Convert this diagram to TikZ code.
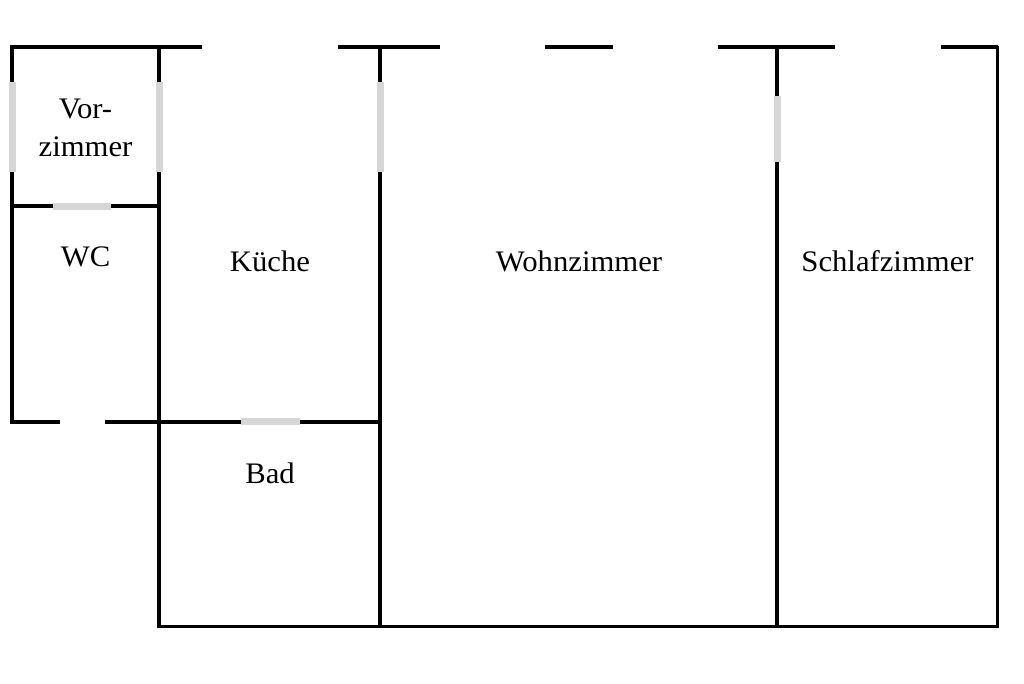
\documentclass[tikz,border=0pt]{standalone}
\usepackage{fontspec}
\setmainfont{Liberation Serif}[FakeStretch=1.03]
\tikzset{
  x=1pt,y=-1pt,
  wall/.style={line width=3.7pt,black,line cap=butt},
  thinwall/.style={line width=3.3pt,black,line cap=butt},
  door/.style={line width=7pt,doorgrey,line cap=butt},
  room/.style={inner sep=0pt,align=center,font=\fontsize{29.8}{38}\selectfont}
}
\definecolor{doorgrey}{HTML}{D6D6D6}
\begin{document}
\begin{tikzpicture}
\useasboundingbox (0,0) rectangle (1024,683);
% outer top wall
\draw[wall,line join=miter] (202,47.3) -- (12.3,47.3) -- (12.3,82);
\draw[wall] (338,47.3) -- (440,47.3);
\draw[wall] (545,47.3) -- (613,47.3);
\draw[wall] (718,47.3) -- (835,47.3);
\draw[wall] (941,47.3) -- (997.7,47.3);
\draw[thinwall,line join=miter] (997.7,45.5) -- (997.7,626.7) -- (159.3,626.7);
% left wall
\draw[wall,line join=miter] (12.3,172) -- (12.3,421.7) -- (60,421.7);
\draw[wall] (105,421.7) -- (240.5,421.7);
\draw[wall] (299.5,421.7) -- (380,421.7);
% partitions
\draw[wall] (159.3,47.3) -- (159.3,82);
\draw[wall] (159.3,172) -- (159.3,628.2);
\draw[wall] (380,47.3) -- (380,82);
\draw[wall] (380,172) -- (380,628.2);
\draw[wall] (777.3,47.3) -- (777.3,96);
\draw[wall] (777.3,161.5) -- (777.3,628.2);
\draw[wall] (12.3,206) -- (53.3,206);
\draw[wall] (111,206) -- (159.3,206);
% doors
\draw[door] (12.3,82) -- (12.3,172);
\draw[door] (159.3,82) -- (159.3,172);
\draw[door] (380,82) -- (380,172);
\draw[door] (777.3,96) -- (777.3,161.5);
\draw[door] (53.3,206) -- (111,206);
\draw[door] (240.5,421.7) -- (299.5,421.7);
% rooms
\node[room] (vor) at (85.5,128) {Vor-\\zimmer};
\node[room] (wc) at (85.5,257) {WC};
\node[room] (kueche) at (270,261) {Küche};
\node[room] (bad) at (270,473) {Bad};
\node[room] (wohn) at (579,261) {Wohnzimmer};
\node[room] (schlaf) at (887.5,261) {Schlafzimmer};
\end{tikzpicture}
\end{document}
